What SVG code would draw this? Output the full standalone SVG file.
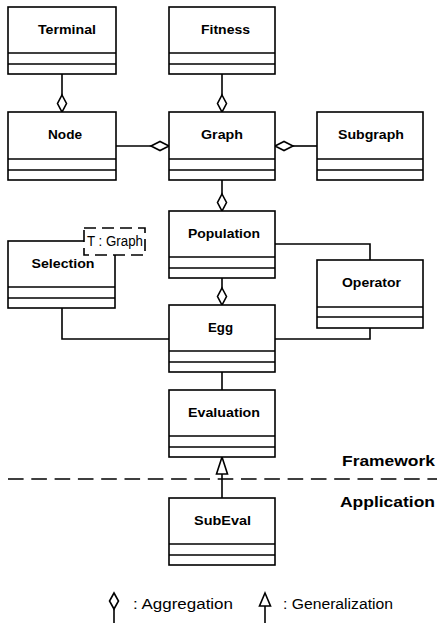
<svg xmlns="http://www.w3.org/2000/svg" width="437" height="623" viewBox="0 0 437 623">
  <style>
    .box { fill: #ffffff; stroke: #000000; stroke-width: 1.6; }
    .div { stroke: #000000; stroke-width: 1.6; }
    .ln { fill: none; stroke: #000000; stroke-width: 1.6; }
    .dia { fill: #ffffff; stroke: #000000; stroke-width: 1.6; stroke-linejoin: miter; }
    .lbl { font-family: "Liberation Sans", Arial, Helvetica, sans-serif; font-weight: bold; font-size: 12.5px; fill: #000000; text-anchor: middle; }
    .layer { font-family: "Liberation Sans", Arial, Helvetica, sans-serif; font-weight: bold; font-size: 15px; fill: #000000; }
    .plain { font-family: "Liberation Sans", Arial, Helvetica, sans-serif; font-size: 14px; fill: #000000; }
  </style>

  <!-- connectors -->
  <g id="connectors">
    <!-- Terminal -> Node (aggregation) -->
    <line class="ln" x1="62" y1="74" x2="62" y2="95"/>
    <polygon class="dia" points="62,95 66.5,103.5 62,112 57.5,103.5"/>
    <!-- Fitness -> Graph (aggregation) -->
    <line class="ln" x1="222" y1="74" x2="222" y2="95"/>
    <polygon class="dia" points="222,95 226.5,103.5 222,112 217.5,103.5"/>
    <!-- Node -> Graph (aggregation) -->
    <line class="ln" x1="116" y1="146" x2="151" y2="146"/>
    <polygon class="dia" points="151,146 160,141.5 169,146 160,150.5"/>
    <!-- Subgraph -> Graph (aggregation) -->
    <line class="ln" x1="293" y1="146" x2="317" y2="146"/>
    <polygon class="dia" points="275,146 284,141.5 293,146 284,150.5"/>
    <!-- Graph -> Population (aggregation) -->
    <line class="ln" x1="222" y1="180" x2="222" y2="194"/>
    <polygon class="dia" points="222,194 226.5,202.5 222,211 217.5,202.5"/>
    <!-- Population -> Egg (aggregation) -->
    <line class="ln" x1="222" y1="278" x2="222" y2="288"/>
    <polygon class="dia" points="222,288 226.5,296.5 222,305 217.5,296.5"/>
    <!-- Population - Operator -->
    <polyline class="ln" points="275,244 370,244 370,260"/>
    <!-- Egg - Operator -->
    <polyline class="ln" points="275,339 370,339 370,328"/>
    <!-- Selection - Egg -->
    <polyline class="ln" points="62,308 62,339 169,339"/>
    <!-- Egg - Evaluation -->
    <line class="ln" x1="222" y1="372" x2="222" y2="390"/>
    <!-- SubEval -> Evaluation (generalization) -->
    <line class="ln" x1="222" y1="474" x2="222" y2="498"/>
    <polygon class="dia" points="222,457 227.5,474 216.5,474"/>
  </g>

  <!-- layer separator -->
  <g id="layers">
    <line x1="8" y1="479" x2="437" y2="479" stroke="#000000" stroke-width="1.6" stroke-dasharray="15.6 7.7"/>
    <text class="layer" x="342" y="466" textLength="93" lengthAdjust="spacingAndGlyphs">Framework</text>
    <text class="layer" x="340" y="507" textLength="95" lengthAdjust="spacingAndGlyphs">Application</text>
  </g>

  <g id="terminal">
    <rect class="box" x="8" y="7" width="108" height="67"/>
    <line class="div" x1="8" y1="53" x2="116" y2="53"/>
    <line class="div" x1="8" y1="64" x2="116" y2="64"/>
    <text class="lbl" x="67" y="34" textLength="58" lengthAdjust="spacingAndGlyphs">Terminal</text>
  </g>

  <g id="fitness">
    <rect class="box" x="169" y="7" width="106" height="67"/>
    <line class="div" x1="169" y1="53" x2="275" y2="53"/>
    <line class="div" x1="169" y1="64" x2="275" y2="64"/>
    <text class="lbl" x="225.5" y="34" textLength="49" lengthAdjust="spacingAndGlyphs">Fitness</text>
  </g>

  <g id="node">
    <rect class="box" x="8" y="112" width="108" height="68"/>
    <line class="div" x1="8" y1="159" x2="116" y2="159"/>
    <line class="div" x1="8" y1="170" x2="116" y2="170"/>
    <text class="lbl" x="65" y="139" textLength="34" lengthAdjust="spacingAndGlyphs">Node</text>
  </g>

  <g id="graph">
    <rect class="box" x="169" y="112" width="106" height="68"/>
    <line class="div" x1="169" y1="159" x2="275" y2="159"/>
    <line class="div" x1="169" y1="170" x2="275" y2="170"/>
    <text class="lbl" x="222" y="139" textLength="42" lengthAdjust="spacingAndGlyphs">Graph</text>
  </g>

  <g id="subgraph">
    <rect class="box" x="317" y="112" width="106" height="68"/>
    <line class="div" x1="317" y1="159" x2="423" y2="159"/>
    <line class="div" x1="317" y1="170" x2="423" y2="170"/>
    <text class="lbl" x="371" y="139" textLength="66" lengthAdjust="spacingAndGlyphs">Subgraph</text>
  </g>

  <g id="population">
    <rect class="box" x="169" y="211" width="106" height="67"/>
    <line class="div" x1="169" y1="257" x2="275" y2="257"/>
    <line class="div" x1="169" y1="268" x2="275" y2="268"/>
    <text class="lbl" x="224" y="238" textLength="72" lengthAdjust="spacingAndGlyphs">Population</text>
  </g>

  <g id="selection">
    <rect class="box" x="8" y="241" width="107" height="67"/>
    <line class="div" x1="8" y1="287" x2="115" y2="287"/>
    <line class="div" x1="8" y1="298" x2="115" y2="298"/>
    <text class="lbl" x="63" y="268" textLength="63" lengthAdjust="spacingAndGlyphs">Selection</text>
    <!-- template parameter -->
    <rect x="84" y="228" width="61" height="27" fill="#ffffff" stroke="#000000" stroke-width="1.6" stroke-dasharray="12 6"/>
    <text class="plain" x="87" y="245.5" font-size="12.5" textLength="56" lengthAdjust="spacingAndGlyphs">T : Graph</text>
  </g>

  <g id="operator">
    <rect class="box" x="317" y="260" width="106" height="68"/>
    <line class="div" x1="317" y1="307" x2="423" y2="307"/>
    <line class="div" x1="317" y1="317" x2="423" y2="317"/>
    <text class="lbl" x="371.5" y="287" textLength="59" lengthAdjust="spacingAndGlyphs">Operator</text>
  </g>

  <g id="egg">
    <rect class="box" x="169" y="305" width="106" height="67"/>
    <line class="div" x1="169" y1="351" x2="275" y2="351"/>
    <line class="div" x1="169" y1="362" x2="275" y2="362"/>
    <text class="lbl" x="220.5" y="332" textLength="25" lengthAdjust="spacingAndGlyphs">Egg</text>
  </g>

  <g id="evaluation">
    <rect class="box" x="169" y="390" width="106" height="67"/>
    <line class="div" x1="169" y1="436" x2="275" y2="436"/>
    <line class="div" x1="169" y1="447" x2="275" y2="447"/>
    <text class="lbl" x="224" y="417" textLength="72" lengthAdjust="spacingAndGlyphs">Evaluation</text>
  </g>

  <g id="subeval">
    <rect class="box" x="169" y="498" width="106" height="67"/>
    <line class="div" x1="169" y1="544" x2="275" y2="544"/>
    <line class="div" x1="169" y1="555" x2="275" y2="555"/>
    <text class="lbl" x="222.5" y="525" textLength="57" lengthAdjust="spacingAndGlyphs">SubEval</text>
  </g>

  <!-- legend -->
  <g id="legend">
    <polygon class="dia" points="114,593 118.5,601 114,609 109.5,601"/>
    <line class="ln" x1="114" y1="609" x2="114" y2="623"/>
    <text class="plain" x="133" y="609" textLength="100" lengthAdjust="spacingAndGlyphs">: Aggregation</text>
    <polygon class="dia" points="265,593 270.5,606 259.5,606"/>
    <line class="ln" x1="265" y1="606" x2="265" y2="623"/>
    <text class="plain" x="283" y="609" textLength="110" lengthAdjust="spacingAndGlyphs">: Generalization</text>
  </g>
</svg>
